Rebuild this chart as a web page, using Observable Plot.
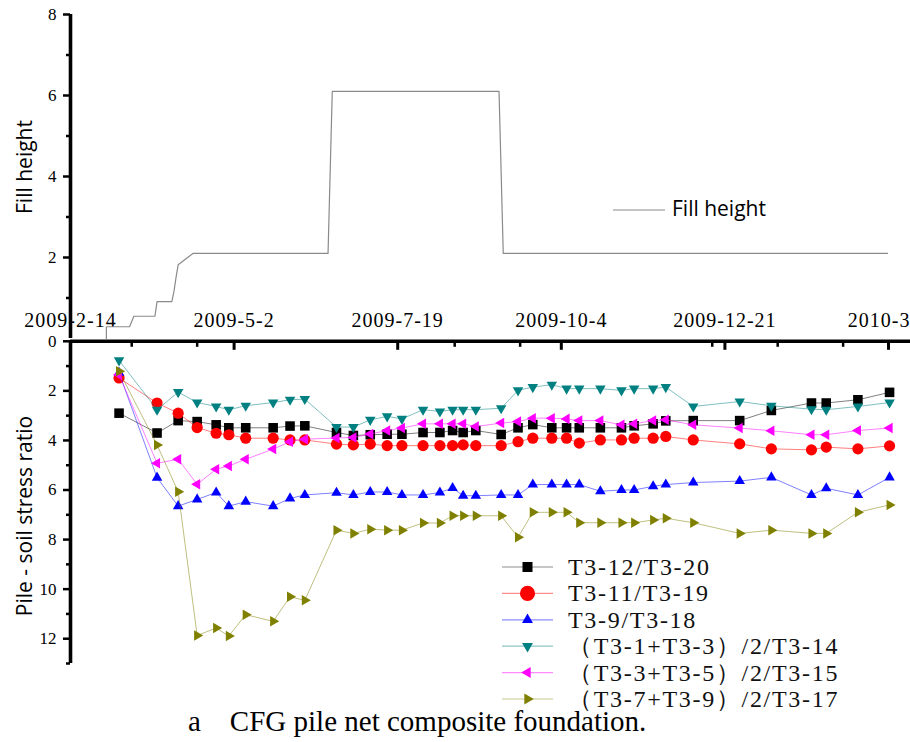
<!DOCTYPE html>
<html><head><meta charset="utf-8">
<script src="https://cdn.jsdelivr.net/npm/d3@7"></script>
<script src="https://cdn.jsdelivr.net/npm/@observablehq/plot@0.6"></script>
<style>
html,body{margin:0;padding:0;background:#fff;overflow:hidden;}
#wrap{position:relative;width:910px;height:742px;overflow:hidden;background:#fff;}
#wrap > svg{position:absolute;left:0;top:0;}
#wrap svg g[aria-label="x-axis tick label"] text{letter-spacing:1px;}
#wrap svg g[aria-label$="tick label"] text, #wrap svg text.sf{font-family:'Liberation Serif','Times New Roman',serif !important;}
#wrap svg text.ss{font-family:'Open Sans','Noto Sans',sans-serif !important;}
#caption{position:absolute;left:188px;top:707px;font-family:'Liberation Serif','Times New Roman',serif;font-size:29px;line-height:29px;white-space:pre;color:#000;}
</style></head><body><div id="wrap"></div>
<script>
// ---------- data ----------
const xDomain = ["2009-02-14T00:00Z", "2010-03-18T22:00Z"];
const xTickDates = ["2009-02-14T00:00Z","2009-05-02T12:00Z","2009-07-19T00:00Z","2009-10-04T12:00Z","2009-12-21T00:00Z","2010-03-08T12:00Z"];
const xTickLabels = ["2009-2-14","2009-5-2","2009-7-19","2009-10-4","2009-12-21","2010-3-8"];
const xMinorTickDates = ["2009-03-15","2009-04-15","2009-08-15","2009-09-15","2009-12-15","2010-01-15","2010-02-15"];

const fillMajorTicks = [2, 4, 6, 8];
const fillMinorTicks = [1, 3, 5, 7];
const ratioMajorTicks = [0, 2, 4, 6, 8, 10, 12];
const ratioMinorTicks = [1, 3, 5, 7, 9, 11, 13];

const fillDates = ["2009-03-03","2009-03-03","2009-03-14","2009-03-16","2009-03-26","2009-03-27","2009-04-03","2009-04-04","2009-04-05","2009-04-06","2009-04-13","2009-06-16","2009-06-18","2009-09-05","2009-09-07","2010-03-08"];
const fillHeights = [0, 0.29, 0.29, 0.55, 0.55, 0.91, 0.91, 1.16, 1.51, 1.82, 2.1, 2.1, 6.1, 6.1, 2.1, 2.1];

const measureDates = ["2009-03-09","2009-03-27","2009-04-06","2009-04-15","2009-04-24","2009-04-30","2009-05-08","2009-05-21","2009-05-29","2009-06-05","2009-06-20","2009-06-28","2009-07-06","2009-07-14","2009-07-21","2009-07-31","2009-08-08","2009-08-14","2009-08-19","2009-08-25","2009-09-06","2009-09-14","2009-09-21","2009-09-30","2009-10-07","2009-10-13","2009-10-23","2009-11-02","2009-11-08","2009-11-17","2009-11-23","2009-12-06","2009-12-28","2010-01-12","2010-01-31","2010-02-07","2010-02-22","2010-03-09"];

const seriesNames = ["T3-12/T3-20","T3-11/T3-19","T3-9/T3-18","（T3-1+T3-3）/2/T3-14","（T3-3+T3-5）/2/T3-15","（T3-7+T3-9）/2/T3-17"];
const ratioT3_12 = [2.9,3.7,3.2,3.24,3.37,3.49,3.49,3.49,3.42,3.41,3.68,3.8,3.77,3.75,3.75,3.68,3.68,3.6,3.68,3.6,3.76,3.49,3.36,3.49,3.49,3.49,3.49,3.49,3.41,3.33,3.21,3.2,3.2,2.79,2.49,2.49,2.36,2.06];
const ratioT3_11 = [1.48,2.49,2.9,3.48,3.71,3.77,3.91,3.91,3.98,3.98,4.15,4.18,4.15,4.21,4.21,4.21,4.21,4.21,4.18,4.21,4.21,4.05,3.91,3.91,3.91,4.11,3.98,3.98,3.91,3.91,3.84,3.98,4.14,4.34,4.38,4.27,4.34,4.22];
const ratioT3_9 = [1.27,5.5,6.65,6.38,6.1,6.65,6.47,6.65,6.34,6.2,6.11,6.2,6.08,6.08,6.2,6.2,6.1,5.92,6.23,6.23,6.2,6.2,5.78,5.78,5.78,5.78,6.05,6.0,6.0,5.85,5.78,5.7,5.64,5.49,6.2,5.93,6.2,5.49];
const ratioT3_1_3 = [0.77,2.76,2.05,2.47,2.63,2.76,2.6,2.47,2.36,2.33,3.46,3.46,3.17,3.03,3.13,2.76,2.83,2.76,2.76,2.76,2.7,1.98,1.85,1.75,1.91,1.91,1.91,1.98,1.91,1.91,1.85,2.63,2.43,2.6,2.74,2.76,2.63,2.47];
const ratioT3_3_5 = [1.35,4.92,4.76,5.77,5.16,5.03,4.76,4.35,4.05,3.95,3.9,3.88,3.74,3.6,3.5,3.33,3.33,3.33,3.33,3.44,3.3,3.24,3.1,3.1,3.13,3.2,3.2,3.37,3.33,3.2,3.17,3.37,3.5,3.61,3.77,3.77,3.6,3.5];
const ratioT3_7_9 = [1.21,4.18,6.07,11.87,11.57,11.89,11.03,11.3,10.31,10.45,7.62,7.75,7.58,7.62,7.62,7.33,7.33,7.04,7.04,7.04,7.04,7.91,6.9,6.9,6.9,7.32,7.32,7.32,7.32,7.21,7.14,7.32,7.75,7.62,7.75,7.75,6.9,6.6];

const fillTitle = "Fill height";
const ratioTitle = "Pile - soil stress ratio";
const captionText = "a    CFG pile net composite foundation.";

// ---------- helpers ----------
const toDate = s => new Date(s);
function tri(angleDeg) {
  const a0 = angleDeg * Math.PI / 180;
  return {draw(ctx, size) {
    const side = Math.sqrt(4 * size / Math.sqrt(3));
    const R = side / Math.sqrt(3);
    for (let k = 0; k < 3; k++) {
      const a = a0 + k * 2 * Math.PI / 3;
      const px = R * Math.cos(a), py = R * Math.sin(a);
      if (k) ctx.lineTo(px, py); else ctx.moveTo(px, py);
    }
    ctx.closePath();
  }};
}
const triUp = tri(-90), triDown = tri(90), triLeft = tri(180), triRight = tri(0);

const seriesValues = [ratioT3_12, ratioT3_11, ratioT3_9, ratioT3_1_3, ratioT3_3_5, ratioT3_7_9];
const seriesStyle = [
  {color: "#000000", symbol: "square", d3sym: d3.symbolSquare, r: 5.4, lsize: 100},
  {color: "#ff0000", symbol: "circle", d3sym: d3.symbolCircle, r: 5.6, lsize: 180},
  {color: "#0000ff", symbol: triUp, d3sym: triUp, r: 3.9, lsize: 52},
  {color: "#008080", symbol: triDown, d3sym: triDown, r: 3.9, lsize: 52},
  {color: "#ff00ff", symbol: triLeft, d3sym: triLeft, r: 3.9, lsize: 52},
  {color: "#808000", symbol: triRight, d3sym: triRight, r: 3.9, lsize: 52}
];

const W = 910, H = 742;
const LEFT = 70;
const TOP_Y0 = 338, TOP_Y8 = 14;
const BOT_Y0 = 340.8, BOT_Y13 = 663;
const FRAME_H = BOT_Y13 - BOT_Y0;
const tickLabelOf = new Map(xTickDates.map((d, i) => [+toDate(d), xTickLabels[i]]));
const fillRows = fillDates.map((d, i) => ({date: toDate(d), h: fillHeights[i]}));
const baseStyle = {background: "transparent", overflow: "visible", color: "#000"};

const wrap = document.getElementById("wrap");

// ---------- top panel: fill height ----------
const topPlot = Plot.plot({
  width: W, height: H,
  marginLeft: LEFT, marginRight: 0, marginTop: TOP_Y8, marginBottom: H - TOP_Y0,
  style: baseStyle,
  x: {type: "utc", domain: xDomain.map(toDate), label: null},
  y: {domain: [0, 8], label: null},
  marks: [
    Plot.axisX({anchor: "bottom", ticks: xTickDates.map(toDate), tickFormat: d => tickLabelOf.get(+d),
      tickSize: 0, tickPadding: -26, fontSize: 20, label: null}),
    Plot.line(fillRows, {x: "date", y: "h", stroke: "#8a8a8a", strokeWidth: 1.2}),
    Plot.axisY({anchor: "left", ticks: fillMajorTicks, tickSize: 7, tickPadding: 7, fontSize: 17,
      strokeWidth: 2.5, label: null}),
    Plot.axisY({anchor: "left", ticks: fillMinorTicks, tickSize: 4, tickFormat: () => "", strokeWidth: 2.5, label: null}),
    Plot.ruleX([toDate(xDomain[0])], {strokeWidth: 3.6})
  ]
});
wrap.appendChild(topPlot);

// ---------- bottom panel: pile-soil stress ratio ----------
const seriesMarks = [];
seriesNames.forEach((name, si) => {
  const st = seriesStyle[si];
  const rows = measureDates.map((d, i) => ({date: toDate(d), v: seriesValues[si][i]}));
  seriesMarks.push(Plot.line(rows, {x: "date", y: "v", stroke: st.color, strokeOpacity: 0.5, strokeWidth: 1}));
  seriesMarks.push(Plot.dot(rows, {x: "date", y: "v", symbol: st.symbol, r: st.r, fill: st.color, stroke: "none"}));
});

const botPlot = Plot.plot({
  width: W, height: H,
  marginLeft: LEFT, marginRight: 0, marginTop: BOT_Y0, marginBottom: H - BOT_Y13,
  style: baseStyle,
  x: {type: "utc", domain: xDomain.map(toDate), axis: null, label: null},
  y: {domain: [0, 13], reverse: true, axis: null, label: null},
  marks: [
    ...seriesMarks,
    Plot.ruleY([0], {strokeWidth: 3.5}),
    Plot.ruleX([toDate(xDomain[0])], {strokeWidth: 3.6}),
    Plot.tickX(xTickDates.map(toDate), {x: d => d, strokeWidth: 3, insetBottom: FRAME_H - 9}),
    Plot.tickX(xMinorTickDates.map(toDate), {x: d => d, strokeWidth: 2.5, insetBottom: FRAME_H - 6}),
    Plot.axisY({anchor: "left", ticks: ratioMajorTicks, tickSize: 7, tickPadding: 7, fontSize: 17,
      strokeWidth: 2.5, label: null}),
    Plot.axisY({anchor: "left", ticks: ratioMinorTicks, tickSize: 4, tickFormat: () => "", strokeWidth: 2.5, label: null})
  ]
});
wrap.appendChild(botPlot);

// ---------- titles & legends ----------
const ov = d3.select(wrap).append("svg").attr("width", W).attr("height", H);
ov.append("text").attr("class", "ss").attr("transform", "translate(31.5,167) rotate(-90)").attr("text-anchor", "middle")
  .attr("font-size", 21).attr("fill", "#000").text(fillTitle);
ov.append("text").attr("class", "ss").attr("transform", "translate(32,516) rotate(-90)").attr("text-anchor", "middle")
  .attr("font-size", 21).attr("fill", "#000").text(ratioTitle);

// fill legend
ov.append("line").attr("x1", 613).attr("x2", 665).attr("y1", 210).attr("y2", 210)
  .attr("stroke", "#8a8a8a").attr("stroke-width", 1.2);
ov.append("text").attr("class", "ss").attr("x", 672).attr("y", 216).attr("font-size", 21)
  .attr("fill", "#000").text(fillTitle);

// ratio legend
seriesNames.forEach((name, i) => {
  const st = seriesStyle[i];
  const cy = 567 + i * 26.4;
  ov.append("line").attr("x1", 502).attr("x2", 553).attr("y1", cy).attr("y2", cy)
    .attr("stroke", st.color).attr("stroke-opacity", 0.45).attr("stroke-width", 1.2);
  ov.append("path").attr("transform", `translate(527.5,${cy})`)
    .attr("d", d3.symbol(st.d3sym, st.lsize)()).attr("fill", st.color);
  ov.append("text").attr("class", "sf").attr("x", 568).attr("y", cy + 8).attr("font-size", 24)
    .attr("letter-spacing", "1.7").attr("fill", "#111").text(name);
});

const cap = document.createElement("div");
cap.id = "caption";
cap.textContent = captionText;
wrap.appendChild(cap);
</script></body></html>
